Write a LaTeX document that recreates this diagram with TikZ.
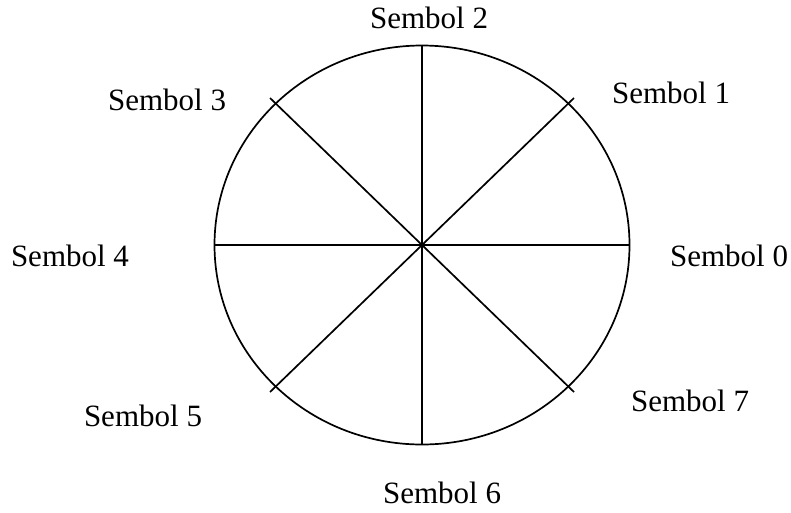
\documentclass[tikz,border=0pt]{standalone}
\usepackage{fontspec}
\setmainfont{Liberation Serif}
\usetikzlibrary{positioning}

\begin{document}
\begin{tikzpicture}[
  x=1pt, y=-1pt,
  lbl/.style={font=\fontsize{31}{36}\selectfont, inner sep=0pt},
  ray/.style={line width=1.7pt},
  rim/.style={line width=1.7pt}
]
  \useasboundingbox (0,0) rectangle (791,512);

  % wheel
  \coordinate (c) at (422,245);
  \draw[rim] (c) ellipse [x radius=207.5, y radius=199.5];

  % rim points (diagonals poke a little past the rim)
  \coordinate (p0) at (629.5,245);
  \coordinate (p1) at (574,98);
  \coordinate (p2) at (422,45.5);
  \coordinate (p3) at (270,98);
  \coordinate (p4) at (214.5,245);
  \coordinate (p5) at (270,392);
  \coordinate (p6) at (422,444.5);
  \coordinate (p7) at (574,392);

  \foreach \i in {0,...,7}
    \draw[ray] (c) -- (p\i);

  % symbols
  \node[lbl] (s0) at (729,256) {Sembol 0};
  \node[lbl] (s1) at (671,93)  {Sembol 1};
  \node[lbl] (s2) at (429,18)  {Sembol 2};
  \node[lbl] (s3) at (167,100) {Sembol 3};
  \node[lbl] (s4) at (70,256)  {Sembol 4};
  \node[lbl] (s5) at (143,416) {Sembol 5};
  \node[lbl] (s6) at (442,493) {Sembol 6};
  \node[lbl] (s7) at (690,401) {Sembol 7};
\end{tikzpicture}
\end{document}
